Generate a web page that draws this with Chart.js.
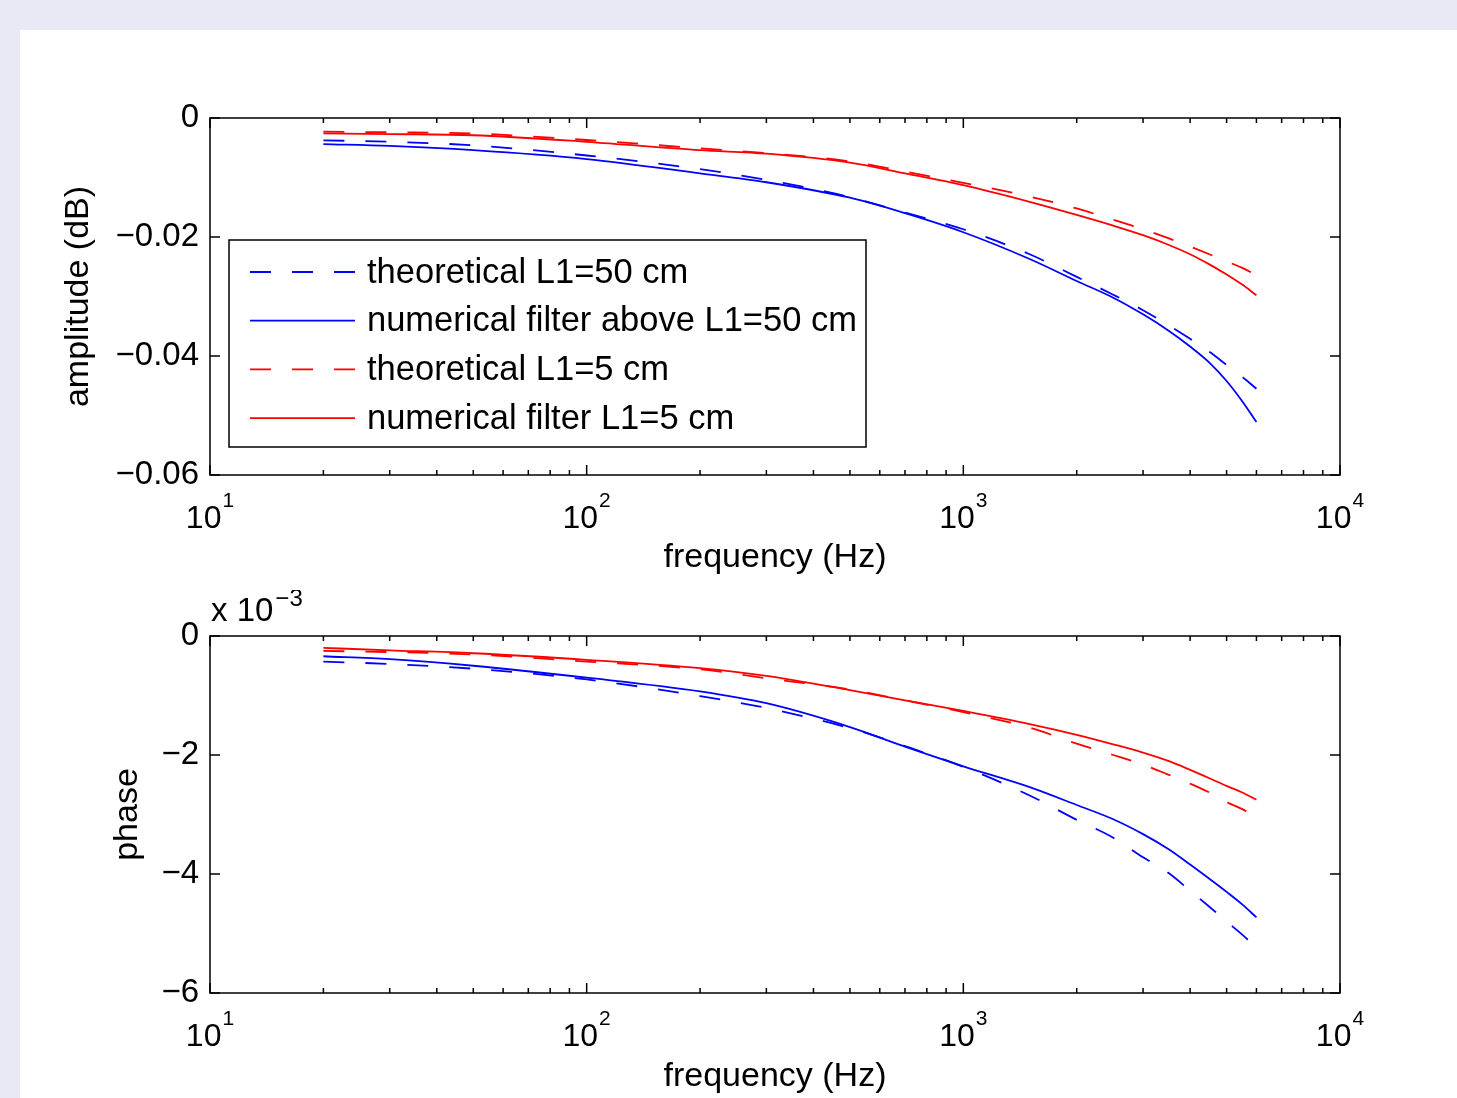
<!DOCTYPE html>
<html>
<head>
<meta charset="utf-8">
<title>amplitude / phase</title>
<script src="https://cdn.jsdelivr.net/npm/chart.js@4.4.1/dist/chart.umd.min.js"></script>
<style>
  html, body { margin: 0; padding: 0; background: #e9e9f5; }
  body { width: 1457px; height: 1098px; position: relative; overflow: hidden; }
  #panel { position: absolute; left: 20px; top: 30px; right: 0; bottom: 0; background: #fff; }
  canvas { position: absolute; left: 0; }
</style>
</head>
<body>
<div id="panel"></div>
<canvas id="ampChart" width="1457" height="590" style="top:0"></canvas>
<canvas id="phaseChart" width="1457" height="508" style="top:590px"></canvas>

<script>
// frequencies (Hz) shared by every curve
const freq = [20, 30, 50, 100, 200, 300, 500, 700, 1000, 1500, 2000, 2500, 3000, 3500, 4000, 4500, 5000, 5500, 6000];

// amplitude (dB)
const ampTheo50 = [-0.00375, -0.0040, -0.0046, -0.0063, -0.0086, -0.0104, -0.0133, -0.0159, -0.0187, -0.0229, -0.0267, -0.0297, -0.0323, -0.0348, -0.0371, -0.0393, -0.0415, -0.0435, -0.0455];
const ampNum50  = [-0.0044, -0.0047, -0.0054, -0.0069, -0.0093, -0.0108, -0.0134, -0.0160, -0.0192, -0.0237, -0.0274, -0.0302, -0.0330, -0.0357, -0.0384, -0.0411, -0.0442, -0.0476, -0.0511];
const ampTheo5  = [-0.0023, -0.0024, -0.0026, -0.0037, -0.0051, -0.0059, -0.0073, -0.0090, -0.0109, -0.0132, -0.0152, -0.0171, -0.0187, -0.0202, -0.0216, -0.0229, -0.0241, -0.0252, -0.0264];
const ampNum5   = [-0.0026, -0.0027, -0.0029, -0.0040, -0.0054, -0.0060, -0.0075, -0.0093, -0.0113, -0.0141, -0.0163, -0.0181, -0.0197, -0.0213, -0.0229, -0.0246, -0.0263, -0.0280, -0.0298];

// phase, in units of 1e-3
const phaseTheo50 = [-0.43, -0.47, -0.55, -0.73, -1.01, -1.21, -1.55, -1.85, -2.20, -2.68, -3.09, -3.39, -3.72, -3.98, -4.28, -4.55, -4.80, -5.02, -5.24];
const phaseNum50  = [-0.34, -0.39, -0.50, -0.70, -0.93, -1.13, -1.53, -1.86, -2.19, -2.54, -2.84, -3.08, -3.33, -3.58, -3.84, -4.08, -4.30, -4.51, -4.73];
const phaseTheo5  = [-0.25, -0.27, -0.31, -0.43, -0.56, -0.71, -0.90, -1.08, -1.28, -1.54, -1.81, -2.00, -2.16, -2.33, -2.48, -2.63, -2.79, -2.91, -3.04];
const phaseNum5   = [-0.20, -0.24, -0.29, -0.40, -0.54, -0.67, -0.91, -1.08, -1.26, -1.48, -1.66, -1.82, -1.96, -2.10, -2.25, -2.39, -2.52, -2.63, -2.75];

// axes
const xDecades = [10, 100, 1000, 10000];
const xTickBase = '10';
const xTickExp = ['1', '2', '3', '4'];
const ampTicks = [0, -0.02, -0.04, -0.06];
const ampTickLabels = ['0', '\u22120.02', '\u22120.04', '\u22120.06'];
const phaseTicks = [0, -2, -4, -6];
const phaseTickLabels = ['0', '\u22122', '\u22124', '\u22126'];

const FONT = '"Liberation Sans", Arial, Helvetica, sans-serif';
Chart.defaults.font.family = FONT;
Chart.defaults.color = '#000';

const BLUE = '#0000ff';
const RED = '#ff0000';
const DASH = [21, 21];

function xy(arr) {
  return freq.map((f, i) => ({ x: f, y: arr[i] }));
}

function makeDatasets(t50, n50, t5, n5) {
  const base = { pointRadius: 0, borderWidth: 1.8, fill: false, cubicInterpolationMode: 'monotone' };
  return [
    Object.assign({ label: 'theoretical L1=50 cm', data: xy(t50), borderColor: BLUE, borderDash: DASH }, base),
    Object.assign({ label: 'numerical filter above L1=50 cm', data: xy(n50), borderColor: BLUE, borderDash: [] }, base),
    Object.assign({ label: 'theoretical L1=5 cm', data: xy(t5), borderColor: RED, borderDash: DASH }, base),
    Object.assign({ label: 'numerical filter L1=5 cm', data: xy(n5), borderColor: RED, borderDash: [] }, base)
  ];
}

// MATLAB-like box, inward ticks, superscript decade labels, boxed legend
const matlabAxes = {
  id: 'matlabAxes',
  afterDatasetsDraw(chart, args, opts) {
    const { ctx, chartArea: a, scales: { x, y } } = chart;
    ctx.save();
    ctx.setLineDash([]);
    ctx.strokeStyle = '#000';
    ctx.lineWidth = 1.5;

    ctx.beginPath();
    xDecades.forEach((dec, d) => {
      const px = x.getPixelForValue(dec);
      ctx.moveTo(px, a.bottom); ctx.lineTo(px, a.bottom - 10);
      ctx.moveTo(px, a.top); ctx.lineTo(px, a.top + 10);
      if (d < xDecades.length - 1) {
        for (let m = 2; m <= 9; m++) {
          const mx = x.getPixelForValue(dec * m);
          ctx.moveTo(mx, a.bottom); ctx.lineTo(mx, a.bottom - 5);
          ctx.moveTo(mx, a.top); ctx.lineTo(mx, a.top + 5);
        }
      }
    });
    y.ticks.forEach(t => {
      const py = y.getPixelForValue(t.value);
      ctx.moveTo(a.left, py); ctx.lineTo(a.left + 10, py);
      ctx.moveTo(a.right, py); ctx.lineTo(a.right - 10, py);
    });
    ctx.stroke();
    ctx.strokeRect(a.left, a.top, a.right - a.left, a.bottom - a.top);

    // decade labels 10^n
    ctx.fillStyle = '#000';
    ctx.textAlign = 'left';
    ctx.textBaseline = 'alphabetic';
    xDecades.forEach((dec, d) => {
      const px = x.getPixelForValue(dec);
      ctx.font = '32px ' + FONT;
      const wb = ctx.measureText(xTickBase).width;
      ctx.font = '21px ' + FONT;
      const we = ctx.measureText(xTickExp[d]).width;
      const x0 = px - (wb + we + 1) / 2;
      ctx.font = '32px ' + FONT;
      ctx.fillText(xTickBase, x0, a.bottom + 53);
      ctx.font = '21px ' + FONT;
      ctx.fillText(xTickExp[d], x0 + wb + 1, a.bottom + 32);
    });

    // axis multiplier
    if (opts.multiplier) {
      ctx.font = '33px ' + FONT;
      const txt = 'x 10';
      ctx.fillText(txt, a.left + 1, a.top - 15);
      const w = ctx.measureText(txt).width;
      ctx.font = '24px ' + FONT;
      ctx.fillText(opts.multiplier, a.left + 3 + w, a.top - 30);
    }

    // legend
    if (opts.legend) {
      const bx = a.left + 19, by = a.top + 122, bw = 637, bh = 207;
      ctx.fillStyle = '#fff';
      ctx.fillRect(bx, by, bw, bh);
      ctx.strokeStyle = '#000';
      ctx.lineWidth = 1.5;
      ctx.strokeRect(bx, by, bw, bh);
      ctx.font = '34.5px ' + FONT;
      ctx.textBaseline = 'middle';
      chart.data.datasets.forEach((ds, i) => {
        const ry = by + 32 + i * 48.7;
        ctx.strokeStyle = ds.borderColor;
        ctx.lineWidth = ds.borderWidth;
        ctx.setLineDash(ds.borderDash || []);
        ctx.beginPath();
        ctx.moveTo(bx + 21, ry);
        ctx.lineTo(bx + 126, ry);
        ctx.stroke();
        ctx.setLineDash([]);
        ctx.fillStyle = '#000';
        ctx.fillText(ds.label, bx + 138, ry + 1);
      });
    }
    ctx.restore();
  }
};

function makeChart(id, datasets, cfg) {
  return new Chart(document.getElementById(id), {
    type: 'line',
    data: { datasets: datasets },
    plugins: [matlabAxes],
    options: {
      responsive: false,
      animation: false,
      layout: { padding: cfg.padding },
      plugins: {
        legend: { display: false },
        tooltip: { enabled: false },
        matlabAxes: { legend: cfg.legend, multiplier: cfg.multiplier }
      },
      scales: {
        x: {
          type: 'logarithmic',
          min: 10,
          max: 10000,
          afterFit: s => { s.height = cfg.xHeight; },
          grid: { display: false, drawTicks: false },
          border: { display: false },
          ticks: { display: false },
          title: { display: true, text: 'frequency (Hz)', color: '#000', font: { size: 34 }, padding: 0 }
        },
        y: {
          type: 'linear',
          min: cfg.yTicks[cfg.yTicks.length - 1],
          max: cfg.yTicks[0],
          afterBuildTicks: s => { s.ticks = cfg.yTicks.map(v => ({ value: v })); },
          afterFit: s => { s.width = cfg.yWidth; },
          grid: { display: false, drawTicks: false },
          border: { display: false },
          ticks: {
            padding: 11,
            color: '#000',
            font: { size: 33 },
            callback: v => cfg.yLabels[cfg.yTicks.indexOf(v)]
          },
          title: { display: true, text: cfg.yTitle, color: '#000', font: { size: 34 }, padding: 0 }
        }
      }
    }
  });
}

makeChart('ampChart', makeDatasets(ampTheo50, ampNum50, ampTheo5, ampNum5), {
  padding: { left: 58, top: 118, right: 117, bottom: 12 },
  xHeight: 103,
  yWidth: 152,
  yTicks: ampTicks,
  yLabels: ampTickLabels,
  yTitle: 'amplitude (dB)',
  legend: true,
  multiplier: null
});

makeChart('phaseChart', makeDatasets(phaseTheo50, phaseNum50, phaseTheo5, phaseNum5), {
  padding: { left: 107, top: 46, right: 117, bottom: 1 },
  xHeight: 104,
  yWidth: 103,
  yTicks: phaseTicks,
  yLabels: phaseTickLabels,
  yTitle: 'phase',
  legend: false,
  multiplier: '\u22123'
});
</script>
</body>
</html>
